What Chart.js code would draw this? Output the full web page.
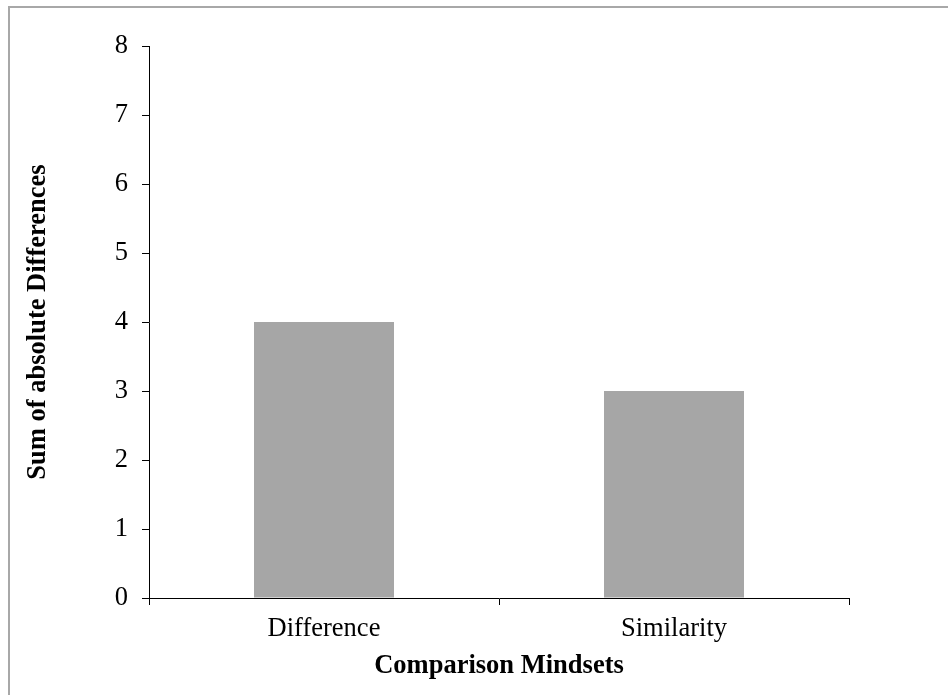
<!DOCTYPE html>
<html>
<head>
<meta charset="utf-8">
<script src="https://cdn.jsdelivr.net/npm/chart.js@4/dist/chart.umd.min.js"></script>
<style>
  body { margin: 0; background: #fff; }
  #wrap { position: relative; width: 948px; height: 695px; }
  #frame { position: absolute; left: 8px; top: 6px; width: 1000px; height: 800px;
           border-top: 2px solid #a8a8a8; border-left: 2px solid #a8a8a8; pointer-events: none; }
</style>
</head>
<body>
<div id="wrap">
  <canvas id="myChart" width="948" height="695"></canvas>
  <div id="frame"></div>
</div>
<script>
const categories = ["Difference", "Similarity"];
const sumValues = [4, 3];
const yTicks = [0, 1, 2, 3, 4, 5, 6, 7, 8];

const serif = "'Liberation Serif', 'Times New Roman', serif";

const ctx = document.getElementById("myChart").getContext("2d");
const myChart = new Chart(ctx, {
    type: "bar",
    data: {
        labels: categories,
        datasets: [{
            data: sumValues,
            backgroundColor: "#a6a6a6",
            borderWidth: 0,
            barPercentage: 0.4,
            categoryPercentage: 1.0,
        }],
    },
    options: {
        responsive: false,
        animation: false,
        layout: { padding: { left: 20, right: 99, top: 46, bottom: 0 } },
        plugins: {
            legend: { display: false },
            tooltip: { enabled: false },
        },
        scales: {
            x: {
                grid: { drawOnChartArea: false, drawTicks: true, tickLength: 7, color: "#000", offset: true },
                border: { display: true, color: "#000", width: 1 },
                ticks: { color: "#000", font: { family: serif, size: 26.5 }, padding: 8 },
                title: {
                    display: true, text: "Comparison Mindsets", color: "#000",
                    font: { family: serif, size: 26.5, weight: "bold" },
                    padding: { top: 0, bottom: 13 },
                },
                afterFit: function(s) { s.height = 97; },
            },
            y: {
                min: 0,
                max: 8,
                afterBuildTicks: function(s) { s.ticks = yTicks.map(v => ({ value: v })); },
                grid: { drawOnChartArea: false, drawTicks: true, tickLength: 7, color: "#000" },
                border: { display: true, color: "#000", width: 1 },
                ticks: { color: "#000", font: { family: serif, size: 26.5 }, padding: 14 },
                title: {
                    display: true, text: "Sum of absolute Differences", color: "#000",
                    font: { family: serif, size: 26.5, weight: "bold" },
                    padding: { top: 2, bottom: 0 },
                },
                afterFit: function(s) { s.width = 129; },
            },
        },
    },
});
</script>
</body>
</html>
